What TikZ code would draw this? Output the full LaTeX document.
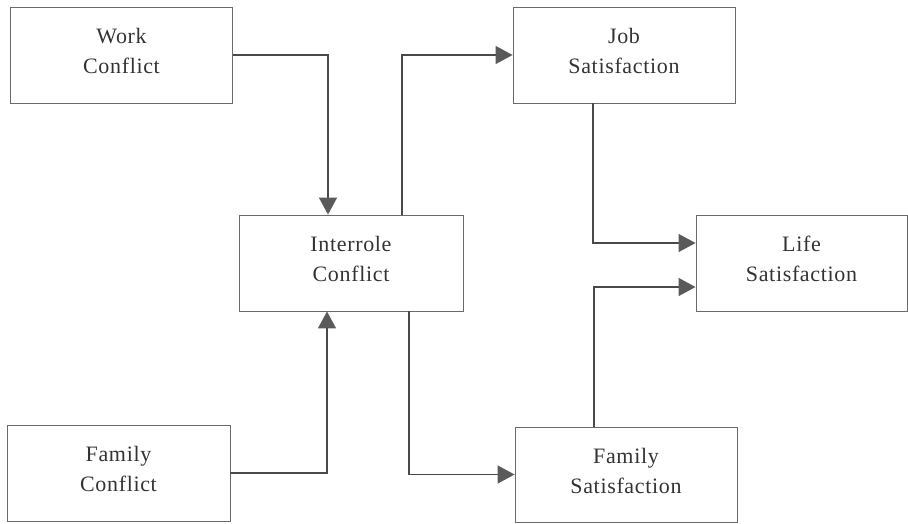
\documentclass[tikz,border=0pt]{standalone}
\usepackage{fontspec}
\setmainfont{Liberation Serif}
\usetikzlibrary{arrows.meta}
\definecolor{linegray}{HTML}{4A4A4A}
\definecolor{boxgray}{HTML}{6A6A6A}
\definecolor{tipgray}{HTML}{5A5A5A}
\definecolor{txtgray}{HTML}{333333}
\begin{document}
\begin{tikzpicture}[x=1pt,y=1pt,
  box/.style={draw=boxgray, line width=0.9pt, minimum width=222pt, minimum height=96pt,
    inner sep=0pt, align=center, text=txtgray,
    font=\fontsize{22pt}{30pt}\selectfont\addfontfeatures{LetterSpace=3}},
  lbl/.style={align=center, inner sep=0pt, text=txtgray,
    font=\fontsize{22pt}{30pt}\selectfont\addfontfeatures{LetterSpace=3}},
  conn/.style={draw=linegray, line width=1.4pt,
    -{Triangle[length=17pt,width=18pt,fill=tipgray,color=tipgray]}}]
\useasboundingbox (0,0) rectangle (908,-523);
\node[box] (work) at (121.5,-55) {};
\node[box, minimum width=224pt] (inter) at (351,-263) {};
\node[box] (job) at (624,-55) {};
\node[box, minimum width=211pt] (life) at (801.5,-263) {};
\node[box, minimum width=223pt] (famc) at (118.5,-473) {};
\node[box, minimum height=95pt] (fams) at (626,-474.5) {};
\node[lbl] (workt) at ([yshift=4pt]work.center) {Work\\Conflict};
\node[lbl] (intert) at ([yshift=4pt]inter.center) {Interrole\\Conflict};
\node[lbl] (jobt) at ([yshift=4pt]job.center) {Job\\Satisfaction};
\node[lbl] (lifet) at ([yshift=4pt]life.center) {Life\\Satisfaction};
\node[lbl] (famct) at ([yshift=4pt]famc.center) {Family\\Conflict};
\node[lbl] (famst) at ([yshift=4pt]fams.center) {Family\\Satisfaction};
\draw[conn] (work.east) -| ([xshift=-23pt]inter.north);
\draw[conn] ([xshift=51pt]inter.north) |- (job.west);
\draw[conn] ([xshift=-31pt]job.south) |- ([yshift=20pt]life.west);
\draw[conn] ([xshift=-32pt]fams.north) |- ([yshift=-24pt]life.west);
\draw[conn] ([xshift=58pt]inter.south) |- (fams.west);
\draw[conn] (famc.east) -| ([xshift=-24pt]inter.south);
\end{tikzpicture}
\end{document}
